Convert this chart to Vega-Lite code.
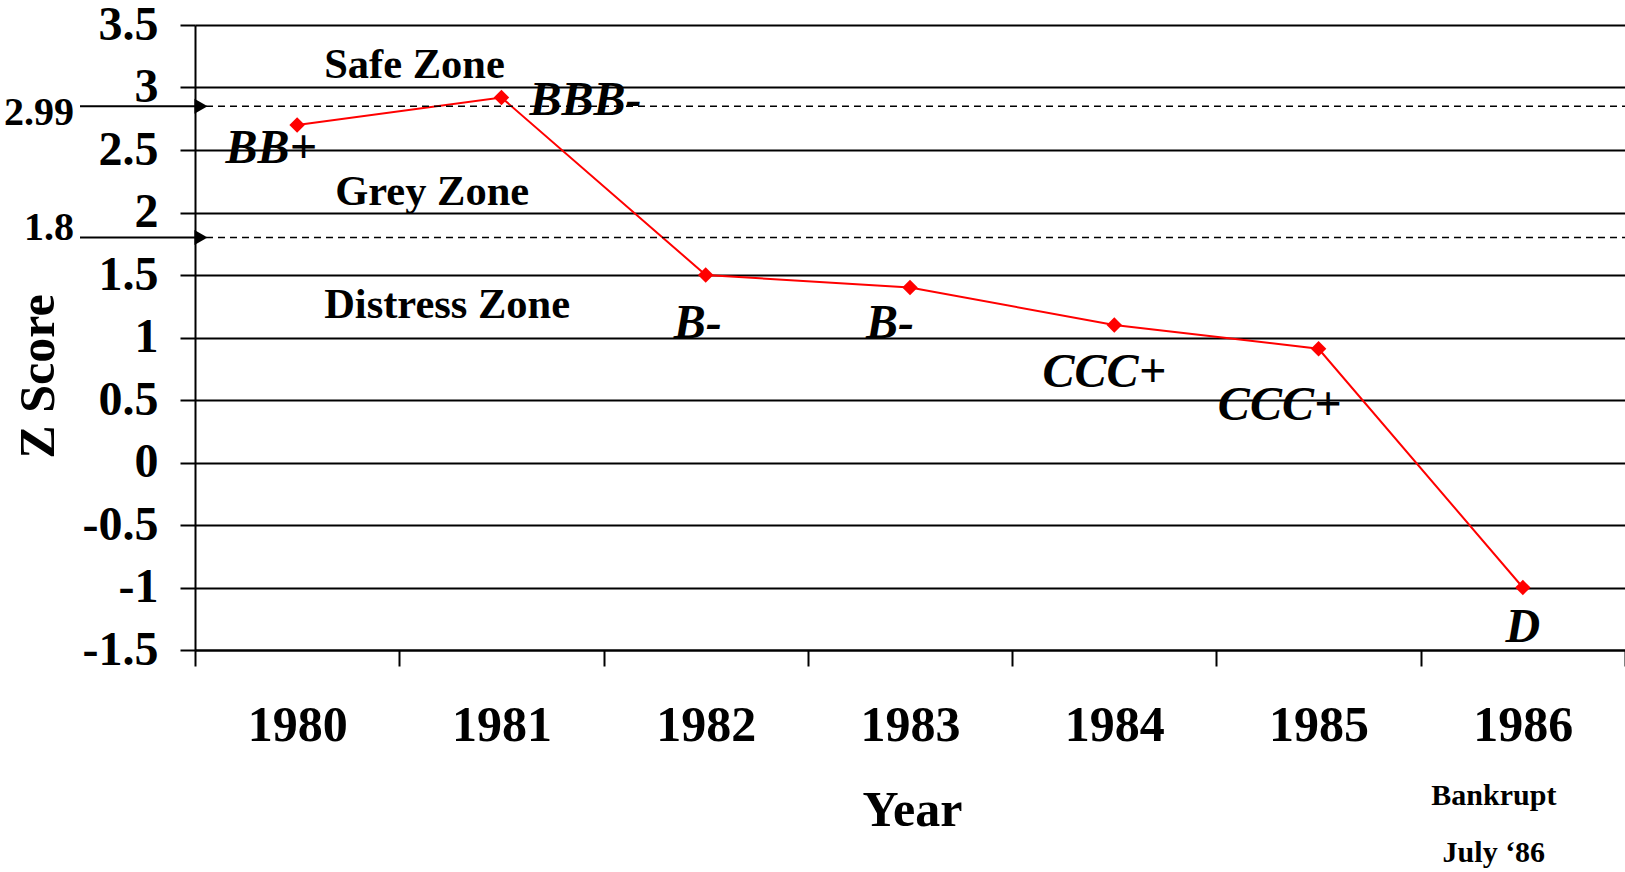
{
  "$schema": "https://vega.github.io/schema/vega-lite/v6.json",
  "width": 1430,
  "height": 625,
  "autosize": {"type": "none"},
  "padding": {"left": 195, "top": 25, "right": 0, "bottom": 222},
  "background": "white",
  "config": {"view": {"stroke": null}, "font": "Liberation Serif"},
  "datasets": {
    "scores": [
      {"year": "1980", "z": 2.7, "rating": "BB+"},
      {"year": "1981", "z": 2.92, "rating": "BBB-"},
      {"year": "1982", "z": 1.5, "rating": "B-"},
      {"year": "1983", "z": 1.4, "rating": "B-"},
      {"year": "1984", "z": 1.1, "rating": "CCC+"},
      {"year": "1985", "z": 0.91, "rating": "CCC+"},
      {"year": "1986", "z": -1.0, "rating": "D"}
    ],
    "thresholds": [
      {"label": "2.99", "z": 2.85},
      {"label": "1.8", "z": 1.8}
    ],
    "zones": [
      {"zone": "Safe Zone", "z": 3.076},
      {"zone": "Grey Zone", "z": 2.06},
      {"zone": "Distress Zone", "z": 1.156}
    ],
    "notes": [
      {"year": "1986", "note": "Bankrupt", "z": -2.74},
      {"year": "1986", "note": "July ‘86", "z": -3.196}
    ]
  },
  "layer": [
    {
      "data": {"name": "scores"},
      "mark": {"type": "line", "color": "#ff0000", "strokeWidth": 2},
      "encoding": {
        "x": {
          "field": "year", "type": "ordinal", "title": "Year",
          "scale": {"paddingInner": 0, "paddingOuter": 0},
          "axis": {
            "title": "Year", "labelAngle": 0,
            "labelFont": "Liberation Serif", "labelFontSize": 50, "labelFontWeight": "bold", "labelColor": "black",
            "labelBaseline": "alphabetic", "labelPadding": 74,
            "tickSize": 16, "tickWidth": 2, "tickColor": "black", "tickBand": "extent",
            "domainColor": "black", "domainWidth": 2, "grid": false,
            "titleFont": "Liberation Serif", "titleFontSize": 50, "titleFontWeight": "bold", "titleColor": "black",
            "titleY": 175, "titleX": 717, "titleBaseline": "alphabetic", "titleAlign": "center"
          }
        },
        "y": {
          "field": "z", "type": "quantitative", "title": "Z Score",
          "scale": {"domain": [-1.5, 3.5], "nice": false, "zero": false},
          "axis": {
            "values": [-1.5, -1, -0.5, 0, 0.5, 1, 1.5, 2, 2.5, 3, 3.5],
            "labelExpr": "'' + datum.value",
            "labelFont": "Liberation Serif", "labelFontSize": 48, "labelFontWeight": "bold", "labelColor": "black",
            "labelPadding": 22, "labelOverlap": false, "labelBound": false, "labelFlush": false,
            "tickSize": 15, "tickWidth": 2, "tickColor": "black",
            "domainColor": "black", "domainWidth": 2,
            "grid": true, "gridColor": "black", "gridWidth": 2, "gridOpacity": 1,
            "title": "Z Score",
            "titleFont": "Liberation Serif", "titleFontSize": 50, "titleFontWeight": "bold", "titleColor": "black",
            "titleAngle": 270, "titleX": -142, "titleY": 351, "titleBaseline": "alphabetic", "titleAlign": "center"
          }
        }
      }
    },
    {
      "data": {"name": "thresholds"},
      "mark": {"type": "rule", "color": "black", "strokeWidth": 1.5, "strokeDash": [7, 5], "xOffset": 28},
      "encoding": {
        "y": {"field": "z", "type": "quantitative", "title": "Z Score"}
      }
    },
    {
      "data": {"name": "thresholds"},
      "mark": {"type": "rule", "color": "black", "strokeWidth": 2, "xOffset": -115},
      "encoding": {
        "x": {"datum": "1980", "type": "ordinal", "bandPosition": 0, "title": "Year"},
        "x2": {"datum": "1980", "bandPosition": 0},
        "y": {"field": "z", "type": "quantitative", "title": "Z Score"}
      }
    },
    {
      "data": {"name": "thresholds"},
      "mark": {"type": "point", "shape": "triangle-right", "filled": true, "color": "black", "opacity": 1, "size": 230, "xOffset": 6},
      "encoding": {
        "x": {"datum": "1980", "type": "ordinal", "bandPosition": 0, "title": "Year"},
        "y": {"field": "z", "type": "quantitative", "title": "Z Score"}
      }
    },
    {
      "data": {"name": "thresholds"},
      "transform": [{"filter": "datum.label == '2.99'"}],
      "mark": {"type": "text", "font": "Liberation Serif", "fontSize": 40, "fontWeight": "bold", "color": "black", "align": "right", "baseline": "alphabetic", "dx": -121, "dy": 19},
      "encoding": {
        "x": {"datum": "1980", "type": "ordinal", "bandPosition": 0, "title": "Year"},
        "y": {"field": "z", "type": "quantitative", "title": "Z Score"},
        "text": {"field": "label"}
      }
    },
    {
      "data": {"name": "thresholds"},
      "transform": [{"filter": "datum.label == '1.8'"}],
      "mark": {"type": "text", "font": "Liberation Serif", "fontSize": 40, "fontWeight": "bold", "color": "black", "align": "right", "baseline": "alphabetic", "dx": -121, "dy": 2},
      "encoding": {
        "x": {"datum": "1980", "type": "ordinal", "bandPosition": 0, "title": "Year"},
        "y": {"field": "z", "type": "quantitative", "title": "Z Score"},
        "text": {"field": "label"}
      }
    },
    {
      "data": {"name": "zones"},
      "transform": [{"filter": "datum.zone != 'Grey Zone'"}],
      "mark": {"type": "text", "font": "Liberation Serif", "fontSize": 42.5, "fontWeight": "bold", "color": "black", "align": "left", "baseline": "alphabetic", "dx": 27},
      "encoding": {
        "x": {"datum": "1980", "type": "ordinal", "title": "Year"},
        "y": {"field": "z", "type": "quantitative", "title": "Z Score"},
        "text": {"field": "zone"}
      }
    },
    {
      "data": {"name": "zones"},
      "transform": [{"filter": "datum.zone == 'Grey Zone'"}],
      "mark": {"type": "text", "font": "Liberation Serif", "fontSize": 42.5, "fontWeight": "bold", "color": "black", "align": "left", "baseline": "alphabetic", "dx": 38},
      "encoding": {
        "x": {"datum": "1980", "type": "ordinal", "title": "Year"},
        "y": {"field": "z", "type": "quantitative", "title": "Z Score"},
        "text": {"field": "zone"}
      }
    },
    {
      "data": {"name": "scores"},
      "mark": {"type": "point", "shape": "diamond", "filled": true, "color": "#ff0000", "opacity": 1, "size": 240},
      "encoding": {
        "x": {"field": "year", "type": "ordinal", "title": "Year"},
        "y": {"field": "z", "type": "quantitative", "title": "Z Score"}
      }
    },
    {
      "data": {"name": "scores"},
      "transform": [{"filter": "datum.year == '1980'"}],
      "mark": {"type": "text", "font": "Liberation Serif", "fontSize": 48, "fontWeight": "bold", "fontStyle": "italic", "color": "black", "align": "center", "baseline": "alphabetic", "dx": -26, "dy": 38},
      "encoding": {
        "x": {"field": "year", "type": "ordinal", "title": "Year"},
        "y": {"field": "z", "type": "quantitative", "title": "Z Score"},
        "text": {"field": "rating"}
      }
    },
    {
      "data": {"name": "scores"},
      "transform": [{"filter": "datum.year == '1981'"}],
      "mark": {"type": "text", "font": "Liberation Serif", "fontSize": 48, "fontWeight": "bold", "fontStyle": "italic", "color": "black", "align": "center", "baseline": "alphabetic", "dx": 84, "dy": 17.5},
      "encoding": {
        "x": {"field": "year", "type": "ordinal", "title": "Year"},
        "y": {"field": "z", "type": "quantitative", "title": "Z Score"},
        "text": {"field": "rating"}
      }
    },
    {
      "data": {"name": "scores"},
      "transform": [{"filter": "datum.year == '1982'"}],
      "mark": {"type": "text", "font": "Liberation Serif", "fontSize": 48, "fontWeight": "bold", "fontStyle": "italic", "color": "black", "align": "center", "baseline": "alphabetic", "dx": -8, "dy": 63},
      "encoding": {
        "x": {"field": "year", "type": "ordinal", "title": "Year"},
        "y": {"field": "z", "type": "quantitative", "title": "Z Score"},
        "text": {"field": "rating"}
      }
    },
    {
      "data": {"name": "scores"},
      "transform": [{"filter": "datum.year == '1983'"}],
      "mark": {"type": "text", "font": "Liberation Serif", "fontSize": 48, "fontWeight": "bold", "fontStyle": "italic", "color": "black", "align": "center", "baseline": "alphabetic", "dx": -20, "dy": 50.5},
      "encoding": {
        "x": {"field": "year", "type": "ordinal", "title": "Year"},
        "y": {"field": "z", "type": "quantitative", "title": "Z Score"},
        "text": {"field": "rating"}
      }
    },
    {
      "data": {"name": "scores"},
      "transform": [{"filter": "datum.year == '1984'"}],
      "mark": {"type": "text", "font": "Liberation Serif", "fontSize": 48, "fontWeight": "bold", "fontStyle": "italic", "color": "black", "align": "center", "baseline": "alphabetic", "dx": -10, "dy": 62},
      "encoding": {
        "x": {"field": "year", "type": "ordinal", "title": "Year"},
        "y": {"field": "z", "type": "quantitative", "title": "Z Score"},
        "text": {"field": "rating"}
      }
    },
    {
      "data": {"name": "scores"},
      "transform": [{"filter": "datum.year == '1985'"}],
      "mark": {"type": "text", "font": "Liberation Serif", "fontSize": 48, "fontWeight": "bold", "fontStyle": "italic", "color": "black", "align": "center", "baseline": "alphabetic", "dx": -39, "dy": 71},
      "encoding": {
        "x": {"field": "year", "type": "ordinal", "title": "Year"},
        "y": {"field": "z", "type": "quantitative", "title": "Z Score"},
        "text": {"field": "rating"}
      }
    },
    {
      "data": {"name": "scores"},
      "transform": [{"filter": "datum.year == '1986'"}],
      "mark": {"type": "text", "font": "Liberation Serif", "fontSize": 48, "fontWeight": "bold", "fontStyle": "italic", "color": "black", "align": "center", "baseline": "alphabetic", "dx": 0, "dy": 54.5},
      "encoding": {
        "x": {"field": "year", "type": "ordinal", "title": "Year"},
        "y": {"field": "z", "type": "quantitative", "title": "Z Score"},
        "text": {"field": "rating"}
      }
    },
    {
      "data": {"name": "notes"},
      "mark": {"type": "text", "font": "Liberation Serif", "fontSize": 30, "fontWeight": "bold", "color": "black", "align": "center", "baseline": "alphabetic", "dx": -29},
      "encoding": {
        "x": {"field": "year", "type": "ordinal", "title": "Year"},
        "y": {"field": "z", "type": "quantitative", "title": "Z Score"},
        "text": {"field": "note"}
      }
    }
  ]
}
